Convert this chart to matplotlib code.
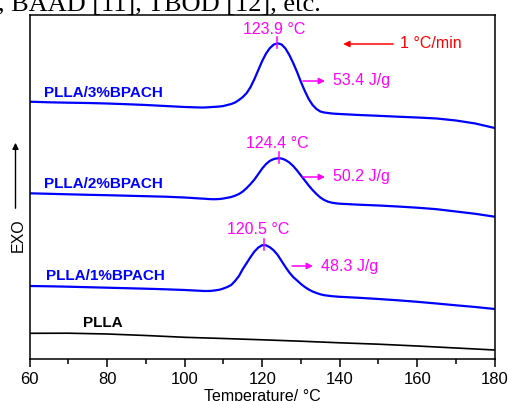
import matplotlib
matplotlib.use("Agg")
import matplotlib.pyplot as plt

plt.rcParams['font.family'] = ['Liberation Sans', 'DejaVu Sans']

# ---------------- data ----------------
temps = [60, 65, 70, 75, 80, 85, 90, 95, 100, 104,
         105, 106, 107, 108, 109, 110, 111, 112, 113, 114, 115, 116, 117, 118, 119,
         120, 121, 122, 123, 124, 125, 126, 127, 128, 129, 130, 131, 132, 133, 134,
         135, 136, 137, 138, 139, 140, 145, 150, 155, 160, 165, 170, 175, 180]

bpach3 = [257.3, 256.7, 256.3, 256.0, 255.5, 254.8, 254.0, 253.0, 252.0, 251.5,
          251.5, 251.7, 252.0, 252.2, 252.5, 253.0, 254.0, 255.0, 256.5, 259.0,
          262.0, 266.0, 272.0, 280.0, 289.0, 298.0, 305.5, 311.0, 314.5, 315.7,
          314.5, 310.5, 304.0, 296.0, 287.0, 277.0, 268.0, 260.0, 254.0, 250.0,
          247.5, 246.5, 246.0, 245.5, 245.2, 245.0, 244.0, 243.2, 242.3, 241.5,
          240.5, 238.5, 235.5, 231.0]

bpach2 = [165.7, 165.2, 164.7, 164.2, 163.8, 163.3, 162.8, 162.3, 161.5, 160.5,
          160.3, 160.0, 159.8, 159.8, 160.0, 160.5, 161.2, 162.0, 163.3, 165.0,
          167.5, 171.0, 175.0, 179.5, 185.0, 190.5, 195.0, 198.2, 200.0, 200.7,
          200.5, 199.0, 196.5, 193.0, 188.5, 183.5, 178.5, 173.5, 169.0, 165.0,
          161.5, 159.0, 157.3, 156.3, 155.7, 155.3, 154.3, 153.5, 152.5, 151.3,
          149.8, 147.5, 145.2, 142.3]

bpach1 = [73.0, 72.7, 72.3, 71.8, 71.3, 70.8, 70.3, 69.7, 69.0, 68.2,
          68.0, 68.0, 68.2, 68.7, 69.3, 70.5, 72.0, 74.0, 78.0, 83.0,
          90.0, 96.0, 102.0, 107.5, 111.5, 113.8, 113.7, 111.7, 108.5, 104.0,
          98.0, 92.0, 86.5, 82.0, 78.5, 75.0, 72.0, 69.5, 67.5, 66.0,
          64.7, 63.8, 63.3, 62.8, 62.5, 62.2, 61.2, 60.0, 58.7, 57.2,
          55.5, 53.7, 52.0, 50.0]

plla_temps = [60, 70, 80, 90, 100, 110, 120, 130, 140, 150, 160, 170, 180]
plla = [25.7, 25.8, 25.0, 23.5, 21.7, 20.5, 19.2, 17.8, 16.2, 14.8, 13.0, 11.0, 9.0]

labels = ["PLLA/3%BPACH", "PLLA/2%BPACH", "PLLA/1%BPACH", "PLLA"]
peak_T = [123.9, 124.4, 120.5]
peak_h = [315.7, 200.7, 113.8]
enthalpy = ["53.4 J/g", "50.2 J/g", "48.3 J/g"]
xticks = [60, 80, 100, 120, 140, 160, 180]

# ---------------- figure ----------------
W, H = 509, 401
fig = plt.figure(figsize=(W / 100, H / 100), dpi=100)
left, right, top, bottom = 29.7, 494.7, 14.5, 359.0
ax = fig.add_axes([left / W, 1 - bottom / H, (right - left) / W, (bottom - top) / H])

ax.plot(temps, bpach3, color='#0000ff', lw=1.6)
ax.plot(temps, bpach2, color='#0000ff', lw=1.6)
ax.plot(temps, bpach1, color='#0000ff', lw=1.6)
ax.plot(plla_temps, plla, color='black', lw=1.2)

ax.set_xlim(60, 180)
ax.set_ylim(0, 344.5)
ax.set_xticks(xticks)
ax.set_xticks(range(60, 181, 10), minor=True)
ax.set_yticks([])
ax.tick_params(axis='x', which='major', direction='out', length=6, width=1.1,
               labelsize=12, pad=3, top=False)
ax.tick_params(axis='x', which='minor', direction='out', length=3.5, width=1.1, top=False)
for s in ax.spines.values():
    s.set_linewidth(1.1)
ax.set_xlabel("Temperature/ °C", fontsize=11.5, labelpad=1.5)

# curve labels
lab_pos = [(63.7, 266), (63.7, 175), (64.2, 83.3), (73.7, 36)]
lab_col = ['#0000ff', '#0000ff', '#0000ff', 'black']
for (x, y), t, c in zip(lab_pos, labels, lab_col):
    ax.text(x, y, t, color=c, fontsize=11, fontweight='bold', ha='left', va='center')

mag = '#ff00ff'
# peak temperatures
ptext_pos = [(123.2, 330), (123.8, 215), (118.9, 130)]
for (x, y), T, h in zip(ptext_pos, peak_T, peak_h):
    ax.text(x, y, f"{T} °C", color=mag, fontsize=11.5, ha='center', va='center')
    ax.plot([T, T], [h - 5, h + 6], color=mag, lw=1.1)

# enthalpy arrows and labels
ent_pos = [(130.5, 136.2, 138.3, 278), (130.5, 136.2, 138.3, 182), (127.7, 133.1, 135.2, 93)]
for (x0, x1, xt, y), t in zip(ent_pos, enthalpy):
    ax.annotate("", xy=(x1, y), xytext=(x0, y),
                arrowprops=dict(arrowstyle='-|>', color=mag, lw=1.1,
                                mutation_scale=9, shrinkA=0, shrinkB=0))
    ax.text(xt, y, t, color=mag, fontsize=11.5, ha='left', va='center')

# cooling rate
ax.annotate("", xy=(140.9, 315), xytext=(153.8, 315),
            arrowprops=dict(arrowstyle='-|>', color='red', lw=1.1,
                            mutation_scale=9, shrinkA=0, shrinkB=0))
ax.text(155.6, 315, "1 °C/min", color='red', fontsize=11.5, ha='left', va='center')

# EXO arrow and label (outside axes)
fig.patches.append(matplotlib.patches.FancyArrowPatch(
    (15.5 / W, 1 - 211 / H), (15.5 / W, 1 - 140 / H), transform=fig.transFigure,
    arrowstyle='-|>', mutation_scale=9, color='black', lw=1.0))
fig.text(18.5 / W, 1 - 235.5 / H, "EXO", rotation=90, fontsize=11.5,
         ha='center', va='center')

# clipped caption fragment from the source page
fig.text(-1.5 / W, 1 - 10.7 / H, ", BAAD [11], TBOD [12], etc.",
         family=['Liberation Serif', 'DejaVu Serif'], fontsize=19,
         ha='left', va='baseline')

fig.savefig("out.png", dpi=100)
